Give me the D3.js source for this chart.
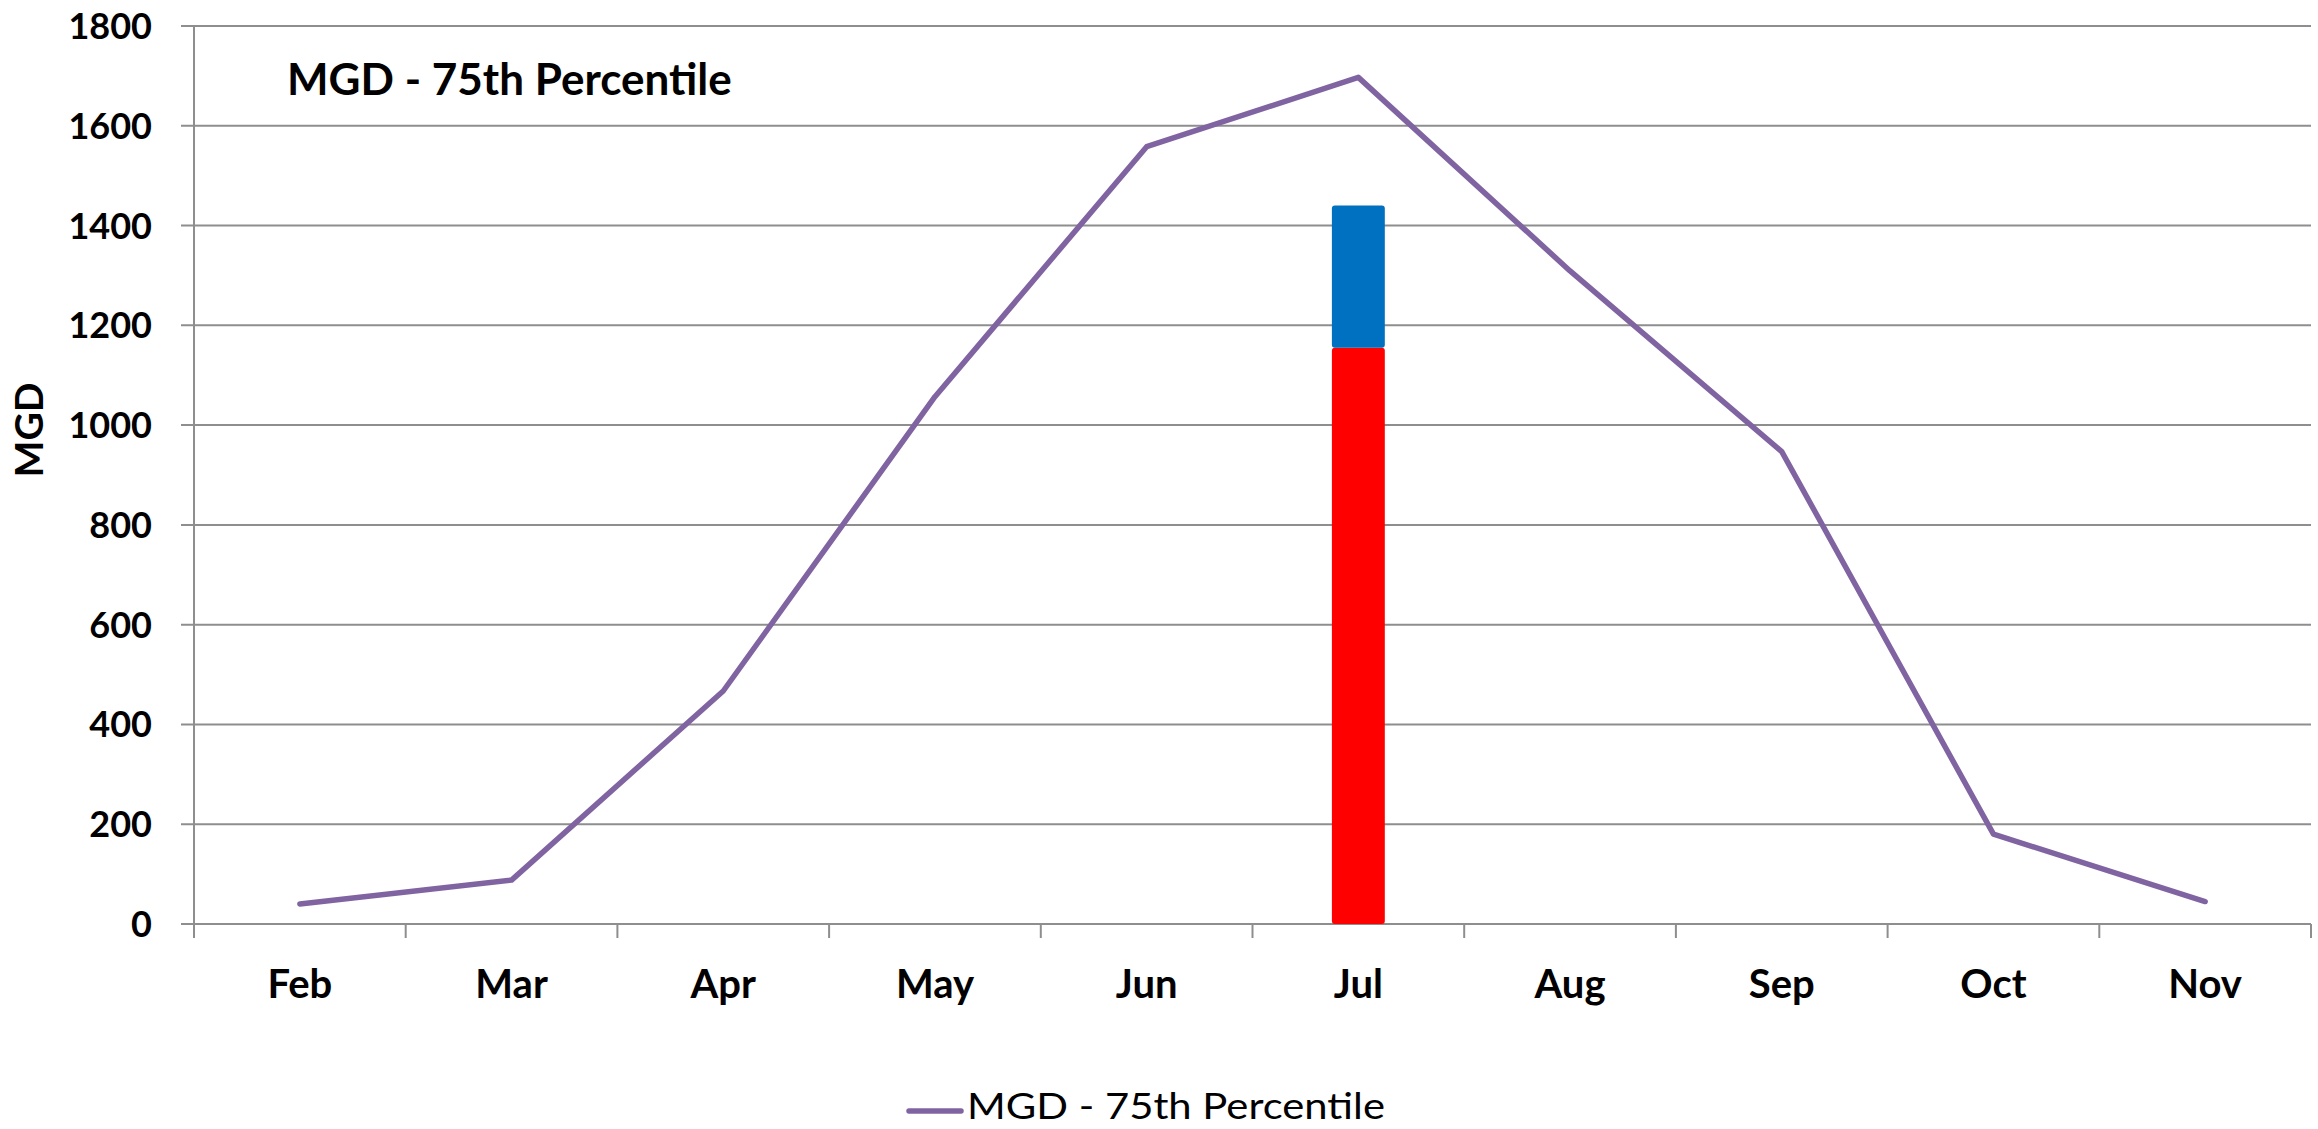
<!DOCTYPE html>
<html>
<head>
<meta charset="utf-8">
<script src="https://cdn.jsdelivr.net/npm/d3@7"></script>
<style>
  body { margin: 0; background: #fff; }
  text { font-family: Lato, "Open Sans", sans-serif; }
</style>
</head>
<body>
<div id="canvas"></div>
<script>
// values
const months = ["Feb", "Mar", "Apr", "May", "Jun", "Jul", "Aug", "Sep", "Oct", "Nov"];
const mgd75 = [40, 88, 467, 1057, 1558, 1697, 1309, 947, 180, 45];
const barMonths = ["Jul"];
const barLower = [1155];
const barUpper = [285];
const yTicks = [0, 200, 400, 600, 800, 1000, 1200, 1400, 1600, 1800];
const seriesName = "MGD - 75th Percentile";

const width = 2318;
const height = 1129;
const margin = { top: 26, left: 194, bottom: 205, right: 7 };
const iwidth = width - margin.left - margin.right;
const iheight = height - margin.top - margin.bottom;
const gridColor = "#8e8e8e";
const lineColor = "#8064a2";

const svg = d3.select("#canvas").append("svg")
  .attr("width", width)
  .attr("height", height);

const g = svg.append("g").attr("transform", `translate(${margin.left},${margin.top})`);

const x = d3.scaleBand().domain(months).range([0, iwidth]);
const y = d3.scaleLinear().domain([0, 1800]).range([iheight, 0]);

// gridlines + left ticks
g.append("g")
  .selectAll("line")
  .data(yTicks)
  .join("line")
  .attr("x1", -13)
  .attr("x2", iwidth)
  .attr("y1", d => y(d))
  .attr("y2", d => y(d))
  .attr("stroke", gridColor)
  .attr("stroke-width", 2);

g.append("g")
  .selectAll("text")
  .data(yTicks)
  .join("text")
  .attr("x", -42)
  .attr("y", d => y(d))
  .attr("dy", "0.36em")
  .attr("text-anchor", "end")
  .style("font-size", "36px")
  .style("font-weight", "bold")
  .text(d => d);

// y axis line
g.append("line")
  .attr("x1", 0).attr("x2", 0)
  .attr("y1", 0).attr("y2", iheight + 14)
  .attr("stroke", gridColor)
  .attr("stroke-width", 2);

// x ticks at category boundaries
const bounds = months.map(m => x(m) + x.bandwidth()).concat([0]);
g.append("g")
  .selectAll("line")
  .data(bounds)
  .join("line")
  .attr("x1", d => d).attr("x2", d => d)
  .attr("y1", iheight).attr("y2", iheight + 14)
  .attr("stroke", gridColor)
  .attr("stroke-width", 2);

g.append("g")
  .selectAll("text")
  .data(months)
  .join("text")
  .attr("x", d => x(d) + x.bandwidth() / 2)
  .attr("y", 972)
  .attr("text-anchor", "middle")
  .style("font-size", "40px")
  .style("font-weight", "bold")
  .text(d => d);

// stacked bar
const barW = x.bandwidth() * 0.25;
const bars = g.append("g");
bars.selectAll("rect.lower")
  .data(barMonths)
  .join("rect")
  .attr("class", "lower")
  .attr("x", d => x(d) + (x.bandwidth() - barW) / 2)
  .attr("width", barW)
  .attr("y", (d, i) => y(barLower[i]))
  .attr("height", (d, i) => y(0) - y(barLower[i]))
  .attr("rx", 3)
  .attr("fill", "#ff0000");
bars.selectAll("rect.upper")
  .data(barMonths)
  .join("rect")
  .attr("class", "upper")
  .attr("x", d => x(d) + (x.bandwidth() - barW) / 2)
  .attr("width", barW)
  .attr("y", (d, i) => y(barLower[i] + barUpper[i]))
  .attr("height", (d, i) => y(barLower[i]) - y(barLower[i] + barUpper[i]))
  .attr("rx", 3)
  .attr("fill", "#0070c0");

// line
const line = d3.line()
  .x((d, i) => x(months[i]) + x.bandwidth() / 2)
  .y(d => y(d));

g.append("path")
  .datum(mgd75)
  .attr("d", line)
  .attr("fill", "none")
  .attr("stroke", lineColor)
  .attr("stroke-width", 5.5)
  .attr("stroke-linejoin", "round")
  .attr("stroke-linecap", "round");

// title inside plot
svg.append("text")
  .attr("x", 287)
  .attr("y", 95)
  .style("font-size", "44px")
  .style("font-weight", "bold")
  .text(seriesName);

// y axis title
svg.append("text")
  .attr("transform", "translate(43,430) rotate(-90)")
  .attr("text-anchor", "middle")
  .style("font-size", "39px")
  .style("font-weight", "bold")
  .text("MGD");

// legend
const legend = svg.append("g").attr("transform", "translate(909,1111)");
legend.append("line")
  .attr("x1", 0).attr("x2", 52)
  .attr("y1", 0).attr("y2", 0)
  .attr("stroke", lineColor)
  .attr("stroke-width", 5.5)
  .attr("stroke-linecap", "round");
legend.append("text")
  .attr("x", 58)
  .attr("y", 8)
  .attr("textLength", 418)
  .attr("lengthAdjust", "spacingAndGlyphs")
  .style("font-size", "36px")
  .text(seriesName);
</script>
</body>
</html>
